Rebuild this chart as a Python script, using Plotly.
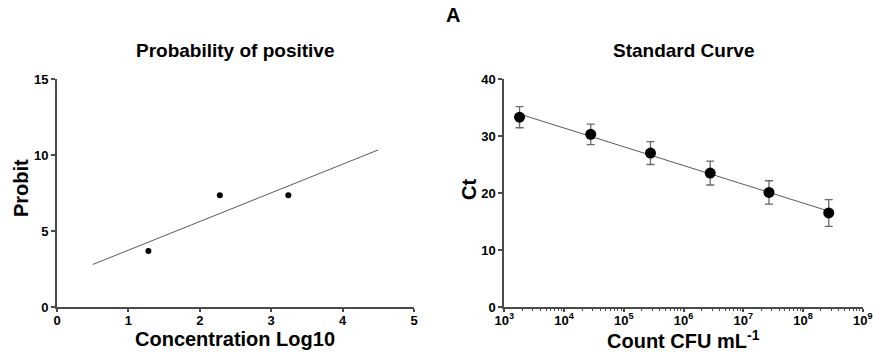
import numpy as np
import plotly.graph_objects as go

# Probit analysis: log10 concentration vs probit
conc_log10 = [1.28, 2.28, 3.24]
probit = [3.68, 7.35, 7.35]
probit_fit_range = [0.5, 4.5]

# Standard curve: bacterial count vs Ct (mean ± SD)
count_cfu = [1.8e3, 2.8e4, 2.8e5, 2.8e6, 2.7e7, 2.7e8]
ct_mean = [33.3, 30.3, 27.0, 23.5, 20.1, 16.5]
ct_sd = [1.85, 1.8, 2.0, 2.1, 2.05, 2.35]

left_xticks = [0, 1, 2, 3, 4, 5]
left_yticks = [0, 5, 10, 15]
right_xticks = [1e3, 1e4, 1e5, 1e6, 1e7, 1e8, 1e9]
right_xticklabels = ["<b>10<sup>%d</sup></b>" % e for e in range(3, 10)]
right_yticks = [0, 10, 20, 30, 40]

W, H = 873, 356
FONT = "Liberation Sans, Arial, sans-serif"
AXIS_COLOR = "#4a4a4a"


def bold(vals):
    return ["<b>%g</b>" % v for v in vals]


# Least-squares fits
p_slope, p_int = np.polyfit(conc_log10, probit, 1)
fit_x = np.array(probit_fit_range)
fit_y = p_int + p_slope * fit_x

log_counts = np.log10(count_cfu)
s_slope, s_int = np.polyfit(log_counts, ct_mean, 1)
curve_x = np.array([count_cfu[0], count_cfu[-1]])
curve_y = s_int + s_slope * np.log10(curve_x)

fig = go.Figure()

fig.add_trace(go.Scatter(x=fit_x, y=fit_y, mode="lines",
                         line=dict(color="#5a5a5a", width=1),
                         xaxis="x", yaxis="y", showlegend=False))
fig.add_trace(go.Scatter(x=conc_log10, y=probit, mode="markers",
                         marker=dict(color="black", size=6),
                         xaxis="x", yaxis="y", showlegend=False))

fig.add_trace(go.Scatter(x=curve_x, y=curve_y, mode="lines",
                         line=dict(color="#5a5a5a", width=1),
                         xaxis="x2", yaxis="y2", showlegend=False))
fig.add_trace(go.Scatter(x=count_cfu, y=ct_mean, mode="markers",
                         marker=dict(color="black", size=11),
                         error_y=dict(type="data", array=ct_sd, visible=True,
                                      color="#6a6a6a", thickness=1.3, width=4),
                         xaxis="x2", yaxis="y2", showlegend=False))

tickfont = dict(family=FONT, size=13, color="black", weight=700)
common = dict(showline=True, linecolor=AXIS_COLOR, linewidth=2,
              ticks="outside", tickwidth=1.5, tickcolor=AXIS_COLOR,
              showgrid=False, zeroline=False, tickfont=tickfont, automargin=False)
xcommon = dict(ticklen=3, ticklabelstandoff=-3, **common)
ycommon = dict(ticklen=4, ticklabelstandoff=0, **common)

y_dom = [1 - 307 / H, 1 - 79 / H]

fig.update_layout(
    width=W, height=H,
    margin=dict(l=0, r=0, t=0, b=0),
    plot_bgcolor="white", paper_bgcolor="white",
    xaxis=dict(domain=[57 / W, 414 / W], range=[0, 5], tickmode="array",
               tickvals=left_xticks, ticktext=bold(left_xticks), anchor="y", **xcommon),
    yaxis=dict(domain=y_dom, range=[0, 15], tickmode="array",
               tickvals=left_yticks, ticktext=bold(left_yticks), anchor="x", **ycommon),
    xaxis2=dict(domain=[504.3 / W, 862.7 / W], type="log", range=[3, 9],
                tickmode="array", tickvals=right_xticks, ticktext=right_xticklabels,
                anchor="y2",
                minor=dict(ticks="outside", ticklen=2, tickwidth=1,
                           tickcolor=AXIS_COLOR, dtick="D1", showgrid=False),
                **xcommon),
    yaxis2=dict(domain=y_dom, range=[0, 40], tickmode="array",
                tickvals=right_yticks, ticktext=bold(right_yticks), anchor="x2", **ycommon),
)


def label(text, px, py, size, angle=0):
    fig.add_annotation(text="<b>%s</b>" % text, x=px / W, y=1 - py / H,
                       xref="paper", yref="paper",
                       showarrow=False, textangle=angle, xanchor="center", yanchor="middle",
                       font=dict(family=FONT, size=size, color="black"))


label("A", 453, 15, 20)
label("Probability of positive", 235, 50, 19)
label("Standard Curve", 683, 50, 19)
label("Concentration Log10", 235, 339, 20)
label("Count CFU mL<sup>-1</sup>", 683, 339, 20)
label("Probit", 21, 188, 20, -90)
label("Ct", 469, 190, 20, -90)

fig.write_html("out.html")
